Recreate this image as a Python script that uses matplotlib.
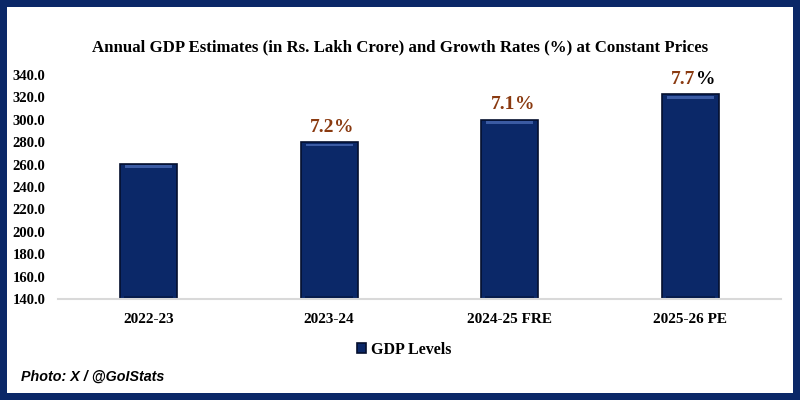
import matplotlib
matplotlib.use("Agg")
import matplotlib.pyplot as plt
from matplotlib.patches import Rectangle

# data
years = ["2022-23", "2023-24", "2024-25 FRE", "2025-26 PE"]
gdp_levels = [260.9, 279.8, 299.6, 322.6]
growth = ["", "7.2", "7.1", "7.7"]
y_ticks = [140, 160, 180, 200, 220, 240, 260, 280, 300, 320, 340]

navy = "#0b2868"
brown = "#8a3a10"

plt.rcParams["font.family"] = ["Liberation Serif", "DejaVu Serif"]

fig = plt.figure(figsize=(8, 4), dpi=100)
fig.patch.set_facecolor(navy)
# white inner panel
fig.add_artist(Rectangle((7 / 800, 7 / 400), 786 / 800, 386 / 400,
                         transform=fig.transFigure, facecolor="white",
                         edgecolor="none", zorder=0))

ax = fig.add_axes([0.0725, 0.2525, 0.9035, 0.56])
ax.set_facecolor("none")

x = range(len(years))
bars = ax.bar(x, [v - 140 for v in gdp_levels], bottom=140, width=0.315,
              color=navy, edgecolor="#040f2e", linewidth=1.2, zorder=2,
              label="GDP Levels")

# light bevel along the top of each bar, darker shade at the foot
for i, v in enumerate(gdp_levels):
    ax.bar(i, 2.6, bottom=v - 3.6, width=0.26, color="#3b5ba3",
           edgecolor="none", zorder=3)
    ax.bar(i, 2.0, bottom=141.0, width=0.27, color="#071c4c",
           edgecolor="none", zorder=3)

# growth labels
for i, v in enumerate(gdp_levels):
    if growth[i] == "":
        continue
    t = ax.annotate(growth[i], (i, v), xytext=(-5, 11), textcoords="offset points",
                    ha="center", va="center", fontsize=14, fontweight="bold",
                    color=brown)
    pct_color = "black" if i == 3 else brown
    ax.annotate("%", xy=(1, 0.5), xycoords=t, ha="left", va="center",
                fontsize=14, fontweight="bold", color=pct_color)

ax.set_ylim(140, 340)
ax.set_xlim(-0.5, len(years) - 0.5)
ax.set_yticks(y_ticks)
ax.set_yticklabels([f"{t:.1f}" for t in y_ticks], fontsize=10.5, fontweight="bold")
ax.set_xticks(list(x))
ax.set_xticklabels(years, fontsize=11, fontweight="bold")
ax.tick_params(axis="both", length=0)
ax.tick_params(axis="x", pad=10)
ax.tick_params(axis="y", pad=9)

for s in ["top", "right", "left"]:
    ax.spines[s].set_visible(False)
ax.spines["bottom"].set_color("#d9d9d9")
ax.spines["bottom"].set_linewidth(1.5)

fig.text(0.5, 1 - 47 / 400, "Annual GDP Estimates (in Rs. Lakh Crore) and Growth Rates (%) at Constant Prices",
         ha="center", va="center", fontsize=12.1, fontweight="bold")

ax.legend(loc="center", bbox_to_anchor=(0.5 + 4 / 800, 1 - 350 / 400), bbox_transform=fig.transFigure,
          frameon=False, prop={"size": 11.5, "weight": "bold"}, handlelength=0.6,
          handleheight=0.6, handletextpad=0.3)

fig.text(21 / 800, 1 - 377 / 400, "Photo: X / @GoIStats", ha="left", va="center",
         fontsize=10.3, fontweight="bold", fontstyle="italic",
         family=["Liberation Sans", "DejaVu Sans"])

plt.savefig("out.png", dpi=100, facecolor=fig.get_facecolor())
